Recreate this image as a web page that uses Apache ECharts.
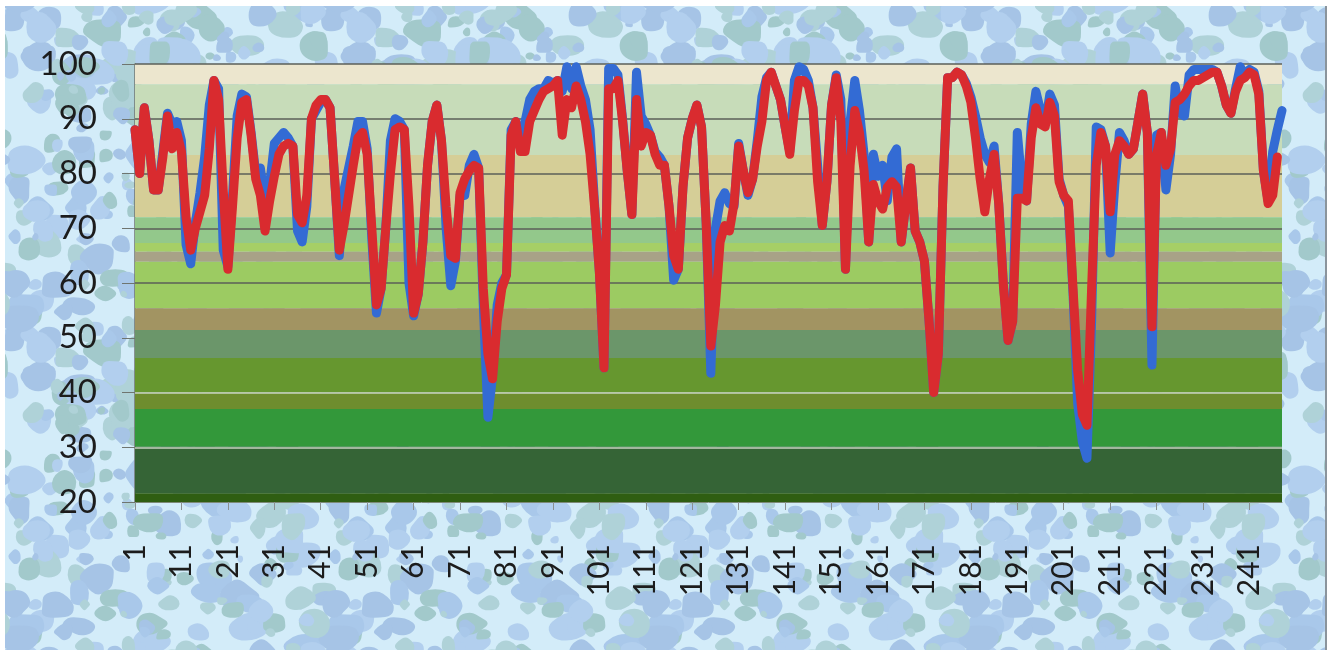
<!DOCTYPE html>
<html>
<head>
<meta charset="utf-8">
<script src="https://cdn.jsdelivr.net/npm/echarts@6/dist/echarts.min.js"></script>
<style>
html, body { margin: 0; padding: 0; background: #fff; }
#chart { position: absolute; left: 5px; top: 6px; width: 1320px; height: 644px; border-right: 2px solid #8a949c; }
</style>
</head>
<body>
<div id="chart"></div>
<script>
// x categories 1..248 (label every 10th)
var categories = [];
for (var n = 1; n <= 248; n++) { categories.push(String(n)); }

// blue series (drawn underneath)
var blueSeries = [
  88, 80, 92, 86, 77, 77, 84, 91, 89, 89.5,
  86, 67, 63.5, 71, 76.5, 83, 92.5, 97, 95.5, 66,
  63, 76, 90.5, 94.5, 94, 87.5, 80, 81, 75, 78,
  85.5, 86.5, 87.5, 86.5, 85, 69.5, 67.5, 74, 90, 91.5,
  93, 93.5, 92, 79, 65, 77, 81, 85, 89.5, 89.5,
  84.5, 68, 54.5, 59, 70, 86, 90, 89.5, 88, 60,
  54, 58, 67.5, 81.5, 89.5, 92.5, 86, 70, 59.5, 64,
  76, 76, 81.5, 83.5, 81, 56, 35.5, 43, 56, 60,
  61.5, 88, 89.5, 84.5, 89.5, 93.5, 95, 95.5, 95.5, 97,
  96.5, 97, 95, 99.5, 95.5, 99.5, 96, 93.5, 88, 74,
  62, 44.5, 99.2, 99.2, 98, 90, 80.5, 72.5, 98.5, 90.5,
  89, 87, 84, 83, 81.5, 74, 60.5, 62.5, 77.5, 86.5,
  90, 92.5, 88.5, 71, 43.5, 70, 75, 76.5, 74.5, 74,
  85.5, 80.5, 76, 79, 86, 94, 97.5, 98.5, 96, 93.5,
  88.5, 84, 97, 99.5, 99, 97, 92, 81.5, 70.5, 78.5,
  92.5, 98, 93.5, 62.5, 89.5, 97, 91.5, 83.5, 67.5, 83.5,
  79.5, 81.5, 75, 83, 84.5, 67.5, 74.5, 81, 69.5, 67.5,
  64, 53, 40, 47, 77.5, 97.5, 97.5, 98.5, 98, 96.5,
  94, 90.5, 86.5, 83.5, 82, 85, 74.5, 60, 49.5, 53,
  87.5, 78, 75, 89, 95, 91.5, 89, 94.5, 92.5, 79,
  76, 74, 58, 38, 31, 28, 53, 88.5, 88, 85,
  65.5, 78, 87.5, 86, 83.5, 84.5, 89.5, 94.5, 87.5, 45,
  87, 87.5, 77, 83.5, 96, 91, 90.5, 98, 99, 99,
  99, 99, 99, 98.5, 96, 92.5, 91, 95.5, 99.5, 98,
  99, 98.5, 95, 80.5, 75, 84, 88, 91.5
];

// red series (drawn on top)
var redSeries = [
  88, 80, 92, 86, 77, 77, 83, 90.5, 84.5, 87.5,
  84, 72, 66, 70, 73, 76, 84.5, 97, 93.5, 77,
  62.5, 74, 86.5, 93, 93.5, 87, 79, 76, 69.5, 75,
  79.5, 83.5, 85, 85.5, 85, 72.5, 71, 76, 90, 92.5,
  93.5, 93.5, 92, 79, 66, 70.5, 76, 81.5, 86.5, 87.5,
  83.5, 70, 56, 59, 70, 80, 88, 88.5, 88, 74,
  54.5, 58, 67.5, 81.5, 89.5, 92.5, 86, 74, 65, 64.5,
  76.5, 79, 80.5, 81.5, 81, 59, 47, 42.5, 53, 59,
  61.5, 87, 89.5, 84, 84, 89.5, 91.5, 93.5, 95, 95.5,
  96, 97, 87, 93.5, 92, 96, 93.5, 89.5, 83.5, 73.5,
  62, 44.5, 95.5, 95.5, 97, 89.5, 80.5, 72.5, 93.5, 85,
  87.5, 87, 83.5, 81.5, 81.5, 74, 65, 62.5, 77.5, 86.5,
  90, 92.5, 88.5, 71, 48.5, 56, 67.5, 70.5, 69.5, 74.5,
  85, 80.5, 76.5, 79, 85, 89.5, 97, 98.5, 96, 93.5,
  88.5, 83.5, 91.5, 97, 97, 96, 92, 78.5, 70.5, 78.5,
  92.5, 97.5, 89.5, 62.5, 81.5, 91.5, 87.5, 80.5, 67.5, 78,
  75, 73.5, 77.5, 78.5, 77.5, 67.5, 74.5, 81, 69.5, 67.5,
  64, 53, 40, 47, 77.5, 97.5, 97.5, 98.5, 98, 96,
  93, 86.5, 79, 73, 79, 83.5, 74.5, 59.5, 49.5, 53,
  75.5, 75.5, 75, 86.5, 92, 89, 88.5, 93, 90.5, 78.5,
  76, 75, 59, 44, 36, 34, 59, 81.5, 87.5, 85,
  73, 83.5, 86, 85, 83.5, 84.5, 89.5, 94.5, 87.5, 52,
  83.5, 87.5, 81.5, 84.5, 93, 93.5, 94.5, 96, 97, 97,
  97.5, 98, 98.5, 98.5, 96, 92.5, 91, 95, 97, 97.5,
  98.5, 98, 94.5, 80.5, 74.5, 76, 83
];

// background bands: value edges from top to bottom
var bandEdges = [100, 96.3, 83.4, 72, 67.3, 65.7, 63.9, 55.4, 51.4, 46.3, 40, 37, 30.1, 21.6, 20];
var bandColors = ['#ECE6CE', '#C7DCB9', '#D5CE97', '#93C88B', '#A6CF66', '#A8A287', '#9CCB62',
                  '#A29462', '#6B966A', '#66972F', '#6E8D2E', '#33983A', '#356436', '#2F5E12'];

// horizontal grid lines
var darkGrid = [60, 70, 80, 90, 100];
var lightGrid = [30, 40];

function makeTexture() {
	var size = 320;
	var c = document.createElement('canvas');
	c.width = size; c.height = size;
	var g = c.getContext('2d');
	g.fillStyle = '#D3ECF9';
	g.fillRect(0, 0, size, size);
	var seed = 4242;
	function rnd() { seed = (seed * 16807) % 2147483647; return (seed - 1) / 2147483646; }
	var cols = ['#A9C8EA', '#A2C9CB', '#B2CFEE', '#A6C4E6', '#AFD2D8'];
	for (var k = 0; k < 260; k++) {
		var cx = rnd() * size, cy = rnd() * size, r = 4 + rnd() * 13;
		var col = cols[Math.floor(rnd() * cols.length)];
		var pts = [], m = 8, stretch = 0.8 + rnd() * 0.7;
		for (var j = 0; j < m; j++) {
			var a = j / m * Math.PI * 2, rr = r * (0.7 + rnd() * 0.45);
			pts.push([Math.cos(a) * rr * stretch, Math.sin(a) * rr]);
		}
		g.fillStyle = col;
		for (var ox = -size; ox <= size; ox += size) {
			for (var oy = -size; oy <= size; oy += size) {
				g.beginPath();
				for (var p = 0; p <= m; p++) {
					var q0 = pts[p % m], q1 = pts[(p + 1) % m];
					var mx = cx + ox + (q0[0] + q1[0]) / 2, my = cy + oy + (q0[1] + q1[1]) / 2;
					if (p === 0) g.moveTo(mx, my);
					else g.quadraticCurveTo(cx + ox + q0[0], cy + oy + q0[1], mx, my);
				}
				g.closePath();
				g.fill();
			}
		}
	}
	return c.toDataURL();
}

var dom = document.getElementById('chart');
dom.style.backgroundImage = 'url(' + makeTexture() + ')';

var areaData = [];
for (var b = 0; b < bandColors.length; b++) {
	areaData.push([{ yAxis: bandEdges[b], itemStyle: { color: bandColors[b] } }, { yAxis: bandEdges[b + 1] }]);
}
var gridLines = [];
darkGrid.forEach(function (v) { gridLines.push({ yAxis: v, lineStyle: { color: '#5b5f58', width: 1.5, type: 'solid' } }); });
lightGrid.forEach(function (v) { gridLines.push({ yAxis: v, lineStyle: { color: '#c9d3c2', width: 1.5, type: 'solid' } }); });

var emptyData = categories.map(function () { return null; });

var myChart = echarts.init(dom, null, { renderer: 'canvas' });
var option = {
	backgroundColor: 'transparent',
	animation: false,
	grid: { left: 130, right: 43, top: 58, bottom: 148, containLabel: false },
	xAxis: {
		type: 'category',
		data: categories,
		boundaryGap: false,
		axisLine: { show: true, lineStyle: { color: '#7d8a78', width: 1 } },
		axisTick: { show: true, interval: 9, length: 8, lineStyle: { color: '#8a9090' } },
		axisLabel: {
			interval: 9, rotate: 90, margin: 42,
			fontFamily: 'Lato', fontSize: 30, color: '#1c1c1c'
		},
		splitLine: { show: false }
	},
	yAxis: {
		type: 'value',
		min: 20, max: 100, interval: 10,
		axisLine: { show: true, lineStyle: { color: '#6f7570', width: 1.5 } },
		axisTick: { show: true, length: 13, lineStyle: { color: '#6f7570' } },
		axisLabel: { margin: 38, fontFamily: 'Lato', fontSize: 33, color: '#1c1c1c' },
		splitLine: { show: false }
	},
	series: [
		{
			name: 'bands',
			type: 'line',
			data: emptyData,
			silent: true,
			z: 1,
			symbol: 'none',
			markArea: { silent: true, z: 1, data: areaData },
			markLine: { silent: true, z: 2, symbol: 'none', label: { show: false }, data: gridLines }
		},
		{
			name: 'blue',
			type: 'line',
			data: blueSeries,
			z: 3,
			symbol: 'none',
			lineStyle: { color: '#336BD4', width: 9, cap: 'round', join: 'round' }
		},
		{
			name: 'red',
			type: 'line',
			data: redSeries,
			z: 4,
			symbol: 'none',
			lineStyle: { color: '#D92B2F', width: 9, cap: 'round', join: 'round' }
		}
	]
};
myChart.setOption(option);
</script>
</body>
</html>
